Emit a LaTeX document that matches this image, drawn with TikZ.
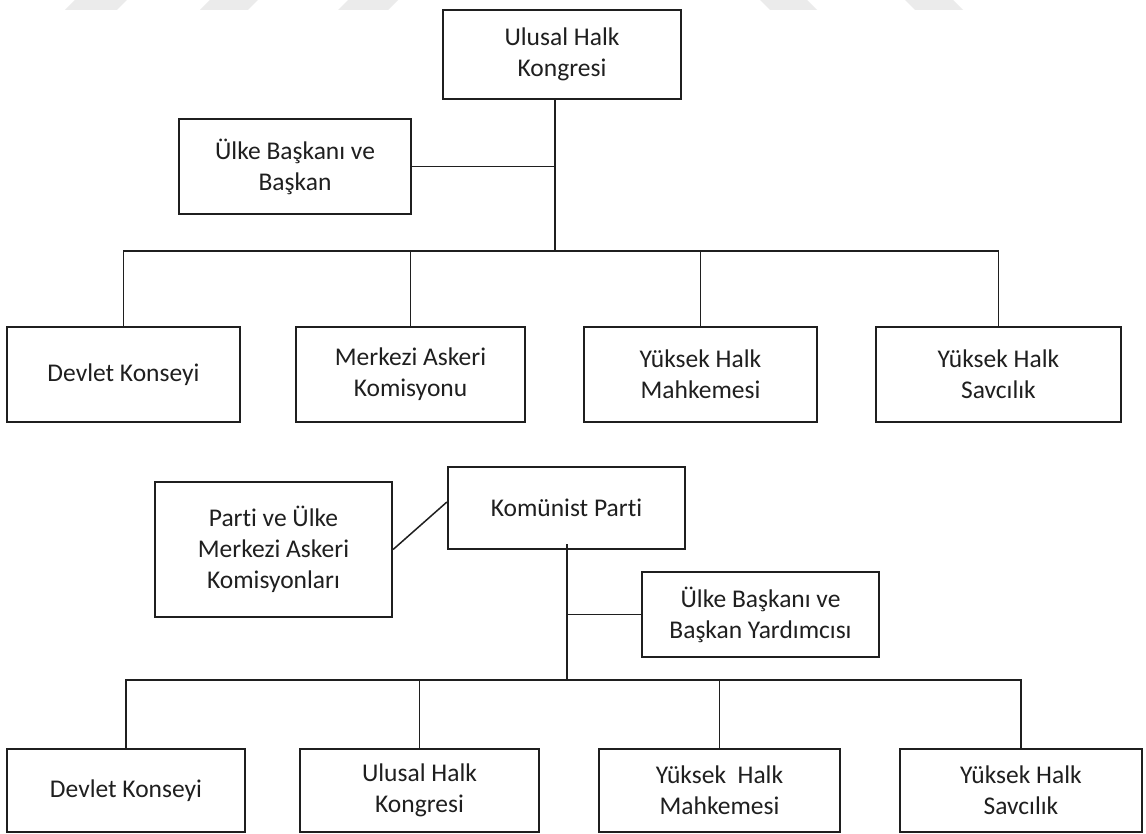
\documentclass[tikz,border=0pt]{standalone}
\usepackage{fontspec}
\setmainfont{Carlito}[Ligatures=NoCommon]
\begin{document}
\begin{tikzpicture}[x=1pt,y=-1pt,
  box/.style={draw=black!88, line width=2.2pt, rectangle, align=center, inner sep=0pt,
    text=black!88, font=\fontsize{25.5}{31}\selectfont},
  conn/.style={draw=black!88, line width=1.5pt},
  wm/.style={fill=black!8, draw=none}]
\useasboundingbox (0,0) rectangle (1146,834);
\fill[white] (0,0) rectangle (1146,834);
% faint watermark shapes
\fill[wm] (65,10) -- (117,10) -- (127,0) -- (75,0) -- cycle;
\fill[wm] (200,10) -- (248,10) -- (258,0) -- (210,0) -- cycle;
\fill[wm] (338,10) -- (388,10) -- (398,0) -- (348,0) -- cycle;
\fill[wm] (760,0) -- (807,0) -- (817,10) -- (770,10) -- cycle;
\fill[wm] (905,0) -- (953,0) -- (963,10) -- (915,10) -- cycle;

% ---------- upper chart ----------
\node[box, minimum width=238, minimum height=89] (top) at (562,54.5) {Ulusal Halk\\Kongresi};
\node[box, minimum width=232, minimum height=95] (ulke1) at (295,166.5) {Ülke Başkanı ve\\Başkan};
\node[box, minimum width=233, minimum height=95] (dk1) at (123.5,374.5) {Devlet Konseyi};
\node[box, minimum width=229, minimum height=95] (mak1) at (410.5,374.5) {Merkezi Askeri\\Komisyonu};
\node[box, minimum width=233, minimum height=95] (yhm1) at (700.5,374.5) {Yüksek Halk\\Mahkemesi};
\node[box, minimum width=245, minimum height=95] (yhs1) at (998.5,374.5) {Yüksek Halk\\Savcılık};
\coordinate (j1) at (555,251);

\draw[conn] (top.south -| j1) -- (j1);
\draw[conn] (ulke1.east) -- (ulke1.east -| j1);
\draw[conn] (dk1.north) |- (j1) -| (yhs1.north);
\draw[conn] (mak1.north) -- (mak1.north |- j1);
\draw[conn] (yhm1.north) -- (yhm1.north |- j1);

% ---------- lower chart ----------
\node[box, minimum width=237, minimum height=82] (kp) at (566.5,508) {Komünist Parti};
\node[box, minimum width=237, minimum height=135] (pa) at (273.5,549.5) {Parti ve Ülke\\Merkezi Askeri\\Komisyonları};
\node[box, minimum width=237, minimum height=85] (ulke2) at (760.5,614.5) {Ülke Başkanı ve\\Başkan Yardımcısı};
\node[box, minimum width=238, minimum height=83] (dk2) at (126,790.5) {Devlet Konseyi};
\node[box, minimum width=239, minimum height=83] (uhk2) at (419.5,790.5) {Ulusal Halk\\Kongresi};
\node[box, minimum width=241, minimum height=83] (yhm2) at (719.5,790.5) {Yüksek~~Halk\\Mahkemesi};
\node[box, minimum width=242, minimum height=83] (yhs2) at (1021,790.5) {Yüksek Halk\\Savcılık};
\coordinate (j2) at (567,680);

\draw[conn] (pa.east) -- ([yshift=6pt]kp.west);
\draw[conn] ([yshift=6pt]kp.south -| j2) -- (j2);
\draw[conn] (ulke2.west) -- (ulke2.west -| j2);
\draw[conn] (dk2.north) |- (j2) -| (yhs2.north);
\draw[conn] (uhk2.north) -- (uhk2.north |- j2);
\draw[conn] (yhm2.north) -- (yhm2.north |- j2);
\end{tikzpicture}
\end{document}
